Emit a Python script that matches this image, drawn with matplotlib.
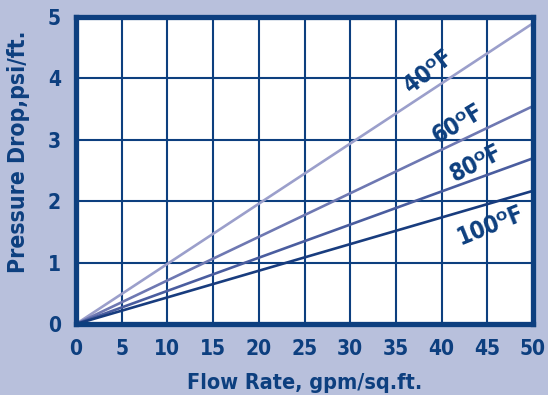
import matplotlib
matplotlib.use('Agg')
import matplotlib.pyplot as plt

# flow rate range and pressure drop at 50 gpm/sq.ft. for each temperature
flow = [0, 50]
temps = ['40', '60', '80', '100']
drop_at_50 = [4.9, 3.55, 2.7, 2.17]
line_colors = ['#9b9fcb', '#6e78b2', '#4a5d9f', '#183c7e']

# label placement (x, y in data units) and rotation
label_pos = [(38.6, 4.12), (41.8, 3.26), (43.8, 2.62), (45.3, 1.6)]
label_rot = [38, 31, 27, 22]

navy = '#0d3f7f'
bg = '#b8c0dc'

plt.rcParams['font.family'] = ['DejaVu Sans']
plt.rcParams['font.stretch'] = 'condensed'
plt.rcParams['font.weight'] = 'bold'

fig = plt.figure(figsize=(5.48, 3.95), dpi=100, facecolor=bg)
ax = fig.add_axes([0.1387, 0.1797, 0.834, 0.777])
ax.set_facecolor('white')

for t, y50, c in zip(temps, drop_at_50, line_colors):
    ax.plot(flow, [0, y50], color=c, lw=1.9, solid_capstyle='butt', zorder=3)

for t, (lx, ly), rot in zip(temps, label_pos, label_rot):
    ax.text(lx, ly, t + '\u1d3cF', rotation=rot, ha='center', va='center',
            color=navy, fontsize=17, fontweight='bold', zorder=4)

ax.set_xlim(0, 50)
ax.set_ylim(0, 5)
ax.set_xticks(range(0, 51, 5))
ax.set_yticks(range(0, 6))
ax.grid(True, color=navy, lw=1.5, zorder=1)
ax.set_axisbelow(True)

for s in ax.spines.values():
    s.set_color(navy)
    s.set_linewidth(3.8)
    s.set_zorder(5)

ax.tick_params(length=0, labelsize=15, labelcolor=navy, pad=11)
for lab in ax.get_xticklabels() + ax.get_yticklabels():
    lab.set_fontweight('bold')

ax.set_xlabel('Flow Rate, gpm/sq.ft.', fontsize=15.5, color=navy, fontweight='bold', labelpad=10)
ax.set_ylabel('Pressure Drop,psi/ft.', fontsize=16.5, color=navy, fontweight='bold')
ax.yaxis.set_label_coords(-0.10, 0.56)

fig.savefig('out.png', dpi=100, facecolor=bg)
